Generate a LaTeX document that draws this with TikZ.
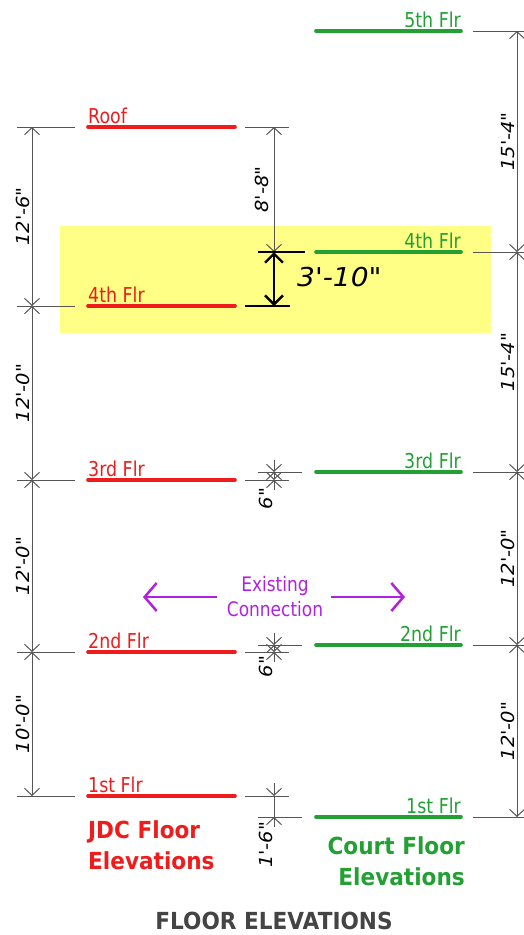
\documentclass[tikz,border=0pt]{standalone}
\usepackage{fontspec}
\newfontfamily\lblfont{DejaVu Sans}[FakeStretch=0.85]
\newfontfamily\headfont{DejaVu Sans}[FakeStretch=0.92]
\newfontfamily\dimfont{DejaVu Sans}[FakeStretch=1.08]
\usepackage{tikz}
\usetikzlibrary{arrows.meta,positioning}
\definecolor{jdcred}{HTML}{EE1C1C}
\definecolor{courtgreen}{HTML}{22A034}
\definecolor{dimgray}{HTML}{555555}
\definecolor{hiyellow}{HTML}{FFFF85}
\definecolor{connpurple}{HTML}{B022E0}
\definecolor{titlegray}{HTML}{444444}
\tikzset{
  dimtip/.tip={Straight Barb[length=7pt,width=15pt]},
  bigtip/.tip={Straight Barb[length=9pt,width=18pt]},
  jdcflr/.style={draw=jdcred, line width=3.6pt, line cap=round},
  courtflr/.style={draw=courtgreen, line width=3.6pt, line cap=round},
  flrlbl/.style={font=\lblfont\fontsize{20.5}{24}\selectfont, inner sep=0pt},
  extline/.style={draw=dimgray, line width=1pt},
  dim/.style={draw=dimgray, line width=1pt, dimtip-dimtip},
  dimend/.style={draw=dimgray, line width=1pt, -dimtip},
  dimlbl/.style={font=\dimfont\itshape\fontsize{18}{20}\selectfont, rotate=90, inner sep=1.5pt},
  % the 4th floor gap
  bigext/.style={draw=black, line width=2.8pt},
  bigdim/.style={draw=black, line width=2.4pt, bigtip-bigtip},
  biglbl/.style={font=\dimfont\itshape\fontsize{26}{30}\selectfont, inner sep=0pt},
  buildlbl/.style={font=\headfont\bfseries\fontsize{23.5}{31}\selectfont, inner sep=0pt},
  connlbl/.style={font=\lblfont\fontsize{20}{25}\selectfont, text=connpurple, align=center, inner sep=0pt},
  connarrow/.style={draw=connpurple, line width=2.5pt, -{Straight Barb[length=12pt,width=28pt]}},
}
\begin{document}
\begin{tikzpicture}[x=1pt,y=-1pt]
  \useasboundingbox (0,0) rectangle (524,935);
  % highlight behind the 4th floors
  \fill[hiyellow] (60,226) rectangle (491,333);
  % JDC floors (left)
  \foreach \nm/\yy/\txt in {roof/127/Roof, 4/306/4th Flr, 3/480/3rd Flr, 2/652/2nd Flr, 1/796/1st Flr} {
    \draw[jdcflr] (88,\yy) -- (235,\yy);
    \node[flrlbl, text=jdcred, anchor=base west] (jl-\nm) at (88,\yy-4) {\txt};
    \draw[extline] (17,\yy) -- (75,\yy);
    \draw[extline] (245,\yy) -- (289,\yy);
    \coordinate (jd-\nm) at (32,\yy);
    \coordinate (jm-\nm) at (274,\yy);
  }
  % court floors (right)
  \foreach \nm/\yy/\txt in {5/31/5th Flr, 4/252/4th Flr, 3/472/3rd Flr, 2/645/2nd Flr, 1/817/1st Flr} {
    \draw[courtflr] (316,\yy) -- (461,\yy);
    \node[flrlbl, text=courtgreen, anchor=base east] (cl-\nm) at (461,\yy-4) {\txt};
    \draw[extline] (473,\yy) -- (524,\yy);
    \coordinate (cd-\nm) at (517,\yy);
    \coordinate (cm-\nm) at (274,\yy);
  }
  \foreach \nm in {3,2,1} {\draw[extline] (258,0 |- cm-\nm) -- (302,0 |- cm-\nm);}
  % outer dimension strings
  \foreach \lo/\hi/\val in {roof/4/12'-6", 4/3/12'-0", 3/2/12'-0", 2/1/10'-0"} {
    \draw[dim] (jd-\lo) -- node[dimlbl, anchor=south] {\val} (jd-\hi);
  }
  \foreach \lo/\hi/\val in {5/4/15'-4", 4/3/15'-4", 3/2/12'-0", 2/1/12'-0"} {
    \draw[dim] (cd-\lo) -- node[dimlbl, anchor=south] {\val} (cd-\hi);
  }
  % middle: roof to court 4th, then the gap
  \draw[dim] (jm-roof) -- node[dimlbl, anchor=south, inner sep=5pt] {8'-8"} (cm-4);
  \draw[bigext] (258,252) -- (305,252);
  \draw[bigext] (245,306) -- (290,306);
  \draw[bigdim] (cm-4) -- (jm-4);
  \node[biglbl, anchor=west] (gap) at (297,277) {3'-10"};
  % 6" steps
  \draw[dim] (cm-3) -- (jm-3);
  \draw[dimend] ([yshift=12pt]cm-3) -- (cm-3);
  \draw[dimend] ([yshift=-10pt]jm-3) -- (jm-3);
  \node[dimlbl, anchor=south east] (step3) at ([yshift=-6pt]jm-3) {6"};
  \draw[dim] (cm-2) -- (jm-2);
  \draw[dimend] ([yshift=12pt]cm-2) -- (cm-2);
  \draw[dimend] ([yshift=-10pt]jm-2) -- (jm-2);
  \node[dimlbl, anchor=south east] (step2) at ([yshift=-2pt]jm-2) {6"};
  % 1'-6" at 1st
  \draw[extline] (jm-1) -- (cm-1);
  \draw[dimend] ([yshift=13pt]jm-1) -- (jm-1);
  \draw[dimend] ([yshift=-10pt]cm-1) -- (cm-1);
  \node[dimlbl, anchor=south east] (step1) at ([yshift=-3pt]cm-1) {1'-6"};
  % existing connection
  \node[connlbl] (conn) at (275,597) {Existing\\Connection};
  \coordinate (connL) at (143,597);
  \coordinate (connR) at (405,597);
  \draw[connarrow] ([xshift=-10pt]conn.west) -- (connL);
  \draw[connarrow] ([xshift=8pt]conn.east) -- (connR);
  % building names and title
  \node[buildlbl, text=jdcred, align=left, anchor=north west] (jdc) at (88,820) {JDC Floor\\Elevations};
  \node[buildlbl, text=courtgreen, align=right, anchor=north east] (court) at (465,836) {Court Floor\\Elevations};
  \node[buildlbl, text=titlegray, anchor=base] (title) at (274,929) {FLOOR ELEVATIONS};
\end{tikzpicture}
\end{document}
